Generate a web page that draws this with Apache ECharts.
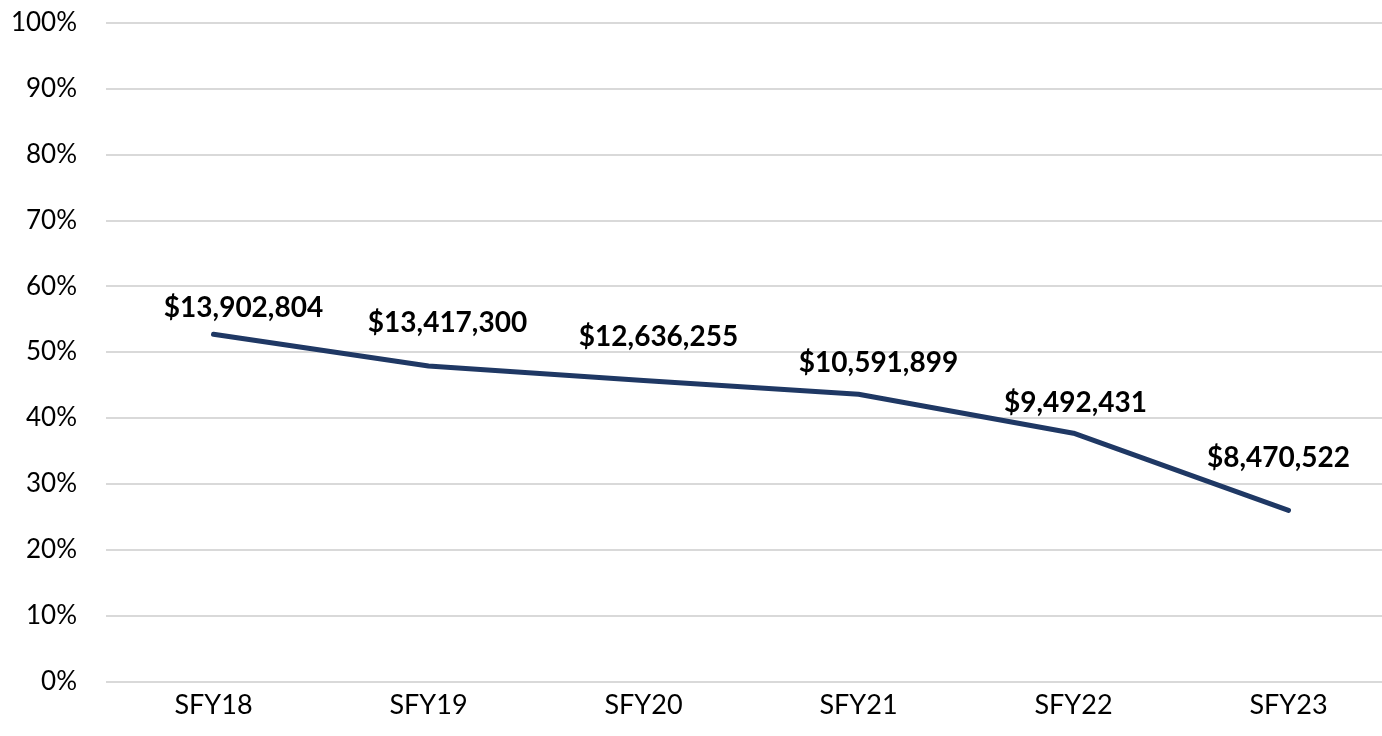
<!DOCTYPE html>
<html>
<head>
<meta charset="utf-8">
<script src="https://cdn.jsdelivr.net/npm/echarts@6/dist/echarts.min.js"></script>
<style>
  html, body { margin: 0; padding: 0; background: #fff; }
  #chart { width: 1382px; height: 736px; }
</style>
</head>
<body>
<div id="chart"></div>
<script>
const years = ['SFY18', 'SFY19', 'SFY20', 'SFY21', 'SFY22', 'SFY23'];
const shares = [52.7, 47.9, 45.7, 43.6, 37.7, 26.0];
const amounts = [13902804, 13417300, 12636255, 10591899, 9492431, 8470522];

// label nudges, to sit like the original
const labelShift = [[30, -26], [19, -43], [15, -43], [20, -31], [2, -30], [-10, -52]];

const font = 'Lato, "Open Sans", sans-serif';
const chart = echarts.init(document.getElementById('chart'));

chart.setOption({
  animation: false,
  grid: { left: 106, right: -14, top: 22.5, bottom: 54.3, outerBoundsMode: 'none' },
  xAxis: {
    type: 'category',
    data: years,
    axisLine: { show: false },
    axisTick: { show: false },
    axisLabel: { color: '#000', fontFamily: font, fontSize: 27, margin: 10 }
  },
  yAxis: {
    type: 'value',
    min: 0,
    max: 100,
    interval: 10,
    axisLine: { show: false },
    axisTick: { show: false },
    splitLine: { lineStyle: { color: '#d9d9d9', width: 2 } },
    axisLabel: {
      color: '#000', fontFamily: font, fontSize: 26, margin: 29,
      formatter: v => v + '%'
    }
  },
  series: [{
    type: 'line',
    data: shares.map((v, i) => ({
      value: v,
      label: { offset: labelShift[i] }
    })),
    symbol: 'circle',
    symbolSize: 0,
    showSymbol: true,
    lineStyle: { color: '#1f3864', width: 5, cap: 'round', join: 'round' },
    itemStyle: { color: '#1f3864' },
    label: {
      show: true,
      position: 'top',
      distance: 0,
      verticalAlign: 'middle',
      color: '#000',
      fontFamily: font,
      fontWeight: 'bold',
      fontSize: 28,
      formatter: p => '$' + amounts[p.dataIndex].toLocaleString('en-US')
    }
  }]
});
</script>
</body>
</html>
